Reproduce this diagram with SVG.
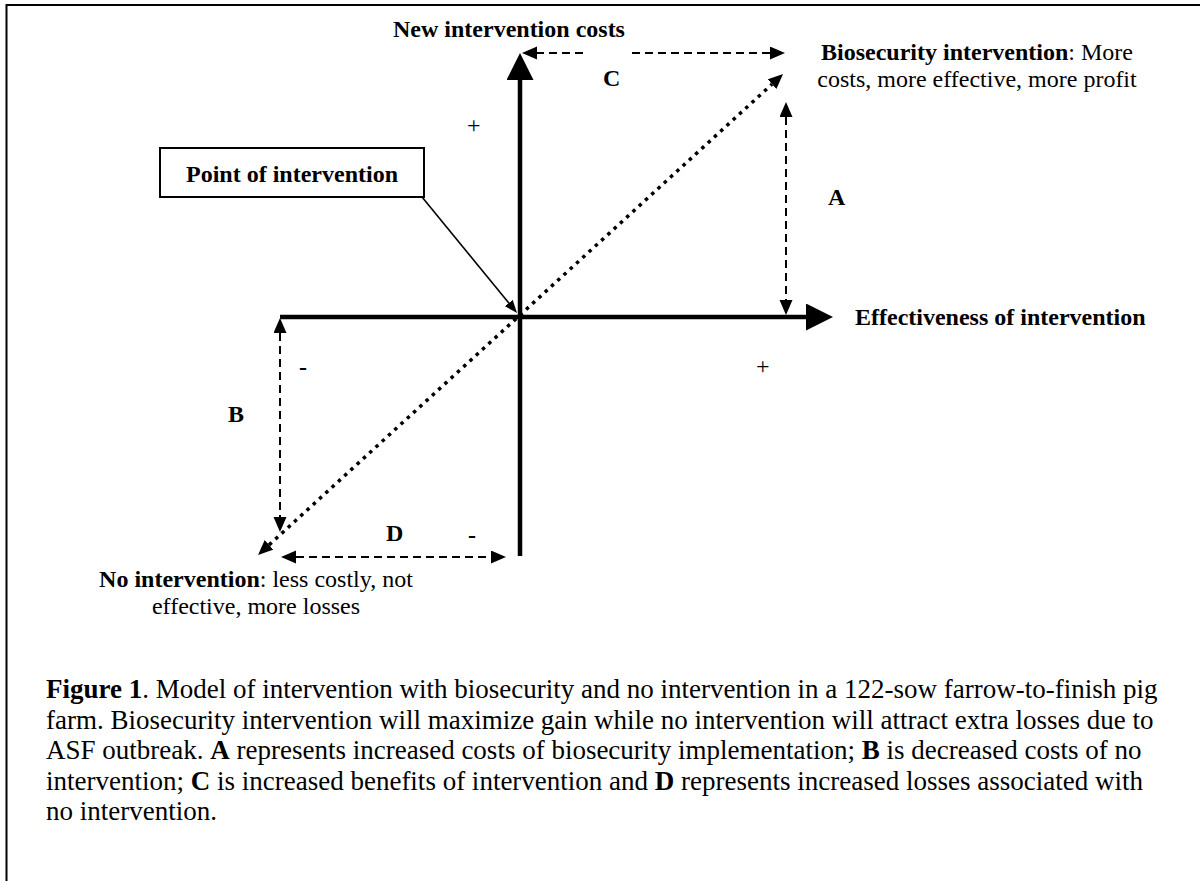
<svg xmlns="http://www.w3.org/2000/svg" width="1200" height="881" viewBox="0 0 1200 881">
  <defs>
    <style>
      text { font-family: "Liberation Serif", "Times New Roman", serif; font-size: 24px; fill: #000; }
      .b { font-weight: bold; }
      .cap { font-size: 27px; }
      .axis { stroke: #000; stroke-width: 4.5; fill: none; }
      .dash { stroke: #000; stroke-width: 2; stroke-dasharray: 8 5; fill: none; }
      .dot { stroke: #000; stroke-width: 3.5; stroke-dasharray: 3.5 5; fill: none; }
      .thin { stroke: #000; stroke-width: 1.6; fill: none; }
      .frame { stroke: #000; stroke-width: 2; fill: none; }
    </style>
    <marker id="axisHead" markerUnits="userSpaceOnUse" markerWidth="28" markerHeight="28" refX="0" refY="13.5" orient="auto" viewBox="0 0 28 28">
      <path d="M0,0 L27,13.5 L0,27 z" fill="#000"/>
    </marker>
    <marker id="dashHead" markerUnits="userSpaceOnUse" markerWidth="16" markerHeight="14" refX="0" refY="6.5" orient="auto-start-reverse" viewBox="0 0 16 14">
      <path d="M0,0 L15,6.5 L0,13 z" fill="#000"/>
    </marker>
    <marker id="thinHead" markerUnits="userSpaceOnUse" markerWidth="14" markerHeight="11" refX="0" refY="5" orient="auto" viewBox="0 0 14 11">
      <path d="M0,0 L13,5 L0,10 z" fill="#000"/>
    </marker>
  </defs>

  <g id="frame">
    <path class="frame" d="M6.5,881 L6.5,5 L1200,5"/>
  </g>

  <g id="connectors">
    <line id="y-axis" class="axis" x1="520" y1="556" x2="520" y2="80" marker-end="url(#axisHead)"/>
    <line id="x-axis" class="axis" x1="280" y1="317" x2="806" y2="317" marker-end="url(#axisHead)"/>
    <line id="diagonal" class="dot" x1="269.1" y1="544.9" x2="772" y2="84.2" marker-start="url(#dashHead)" marker-end="url(#dashHead)"/>
    <line id="arrow-C-left" class="dash" x1="583" y1="53" x2="537" y2="53" marker-end="url(#dashHead)"/>
    <line id="arrow-C-right" class="dash" x1="632" y1="53" x2="770" y2="53" marker-end="url(#dashHead)"/>
    <line id="arrow-A" class="dash" x1="786" y1="117" x2="786" y2="300" marker-start="url(#dashHead)" marker-end="url(#dashHead)"/>
    <line id="arrow-B" class="dash" x1="280" y1="333" x2="280" y2="517" marker-start="url(#dashHead)" marker-end="url(#dashHead)"/>
    <line id="arrow-D" class="dash" x1="296" y1="557" x2="491" y2="557" marker-start="url(#dashHead)" marker-end="url(#dashHead)"/>
    <line id="leader" class="thin" x1="422" y1="197" x2="508.8" y2="303" marker-end="url(#thinHead)"/>
  </g>

  <g id="node-point-of-intervention">
    <rect x="160" y="148" width="264" height="49" fill="#fff" stroke="#000" stroke-width="2"/>
    <text class="b" x="292" y="182" text-anchor="middle">Point of intervention</text>
  </g>

  <g id="node-new-intervention-costs">
    <text class="b" x="393" y="37">New intervention costs</text>
  </g>

  <g id="node-effectiveness">
    <text class="b" x="855" y="325">Effectiveness of intervention</text>
  </g>

  <g id="node-biosecurity">
    <text x="977" y="60" text-anchor="middle"><tspan class="b">Biosecurity intervention</tspan>: More</text>
    <text x="977" y="87" text-anchor="middle">costs, more effective, more profit</text>
  </g>

  <g id="node-no-intervention">
    <text x="256" y="587" text-anchor="middle"><tspan class="b">No intervention</tspan>: less costly, not</text>
    <text x="256" y="614" text-anchor="middle">effective, more losses</text>
  </g>

  <g id="labels">
    <text class="b" x="603" y="86">C</text>
    <text class="b" x="828" y="205">A</text>
    <text class="b" x="228" y="422">B</text>
    <text class="b" x="386" y="541">D</text>
    <text x="467" y="133">+</text>
    <text x="756" y="374">+</text>
    <text class="b" x="299" y="375">-</text>
    <text class="b" x="468" y="543">-</text>
  </g>

  <g id="caption">
    <text class="cap" x="46" y="698"><tspan class="b">Figure 1</tspan>. Model of intervention with biosecurity and no intervention in a 122-sow farrow-to-finish pig</text>
    <text class="cap" x="46" y="728.6">farm. Biosecurity intervention will maximize gain while no intervention will attract extra losses due to</text>
    <text class="cap" x="46" y="759.2">ASF outbreak. <tspan class="b">A</tspan> represents increased costs of biosecurity implementation; <tspan class="b">B</tspan> is decreased costs of no</text>
    <text class="cap" x="46" y="789.8">intervention; <tspan class="b">C</tspan> is increased benefits of intervention and <tspan class="b">D</tspan> represents increased losses associated with</text>
    <text class="cap" x="46" y="820.4">no intervention.</text>
  </g>
</svg>
